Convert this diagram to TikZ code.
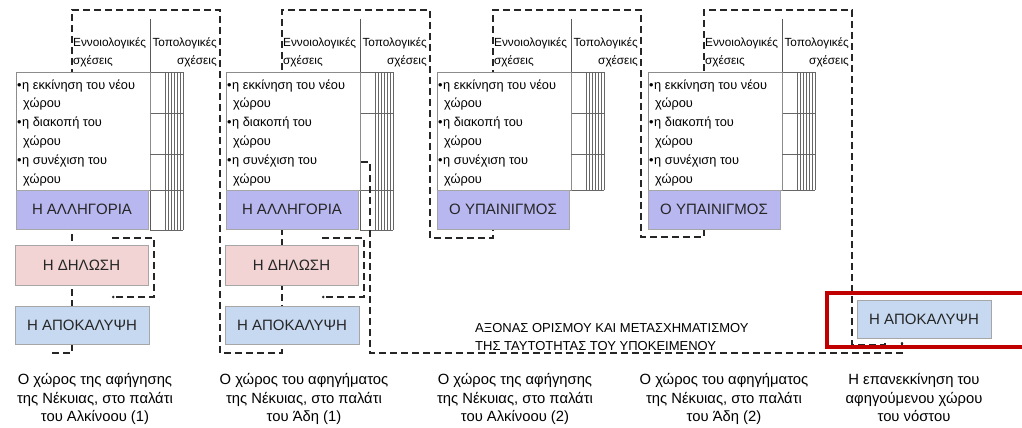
\documentclass[tikz,border=0pt]{standalone}
\usepackage{fontspec}
\setmainfont{Liberation Sans}
\usetikzlibrary{arrows.meta}

\definecolor{allcol}{HTML}{B9B7F0}
\definecolor{decol}{HTML}{F2D4D4}
\definecolor{apcol}{HTML}{C6D9F1}
\definecolor{framered}{HTML}{C00000}

\newcommand\hdrfont{\fontsize{11.8}{13}\selectfont}
\newcommand\itemfont{\fontsize{12.8}{15}\selectfont}
\newcommand\tagfont{\fontsize{15}{17}\selectfont}
\newcommand\capfont{\fontsize{14.8}{18.5}\selectfont}
\newcommand\axisfont{\fontsize{13}{18.5}\selectfont}

\begin{document}
\begin{tikzpicture}[x=1pt,y=-1pt,
  dashline/.style={draw=black!85,line width=1.1pt,dash pattern=on 7pt off 4pt},
  gridline/.style={draw=black!60,line width=0.6pt},
  sepline/.style={draw=black!65,line width=0.7pt},
  textbox/.style={draw=black!45,fill=white,line width=0.7pt,inner sep=0pt,
    minimum width=134,minimum height=118},
  tagbox/.style={draw=black!35,line width=0.7pt,inner sep=0pt,font=\tagfont,
    text=black!85,minimum width=133,minimum height=39},
  itemtext/.style={anchor=base west,inner sep=0pt,font=\itemfont},
  hdrtext/.style={inner sep=0pt,font=\hdrfont},
  captext/.style={align=center,inner sep=0pt,font=\capfont},
  enddot/.style={-{Circle[length=2.5pt]}},
]
\useasboundingbox (0,0) rectangle (1022,428);

% the serpentine dashed line that threads all the panels
\draw[dashline] (52,353) -- (72,353) -- (72,10) -- (220,10) -- (220,353)
  -- (282,353) -- (282,10) -- (430,10) -- (430,238) -- (493,238)
  -- (493,10) -- (641,10) -- (641,237) -- (704,237) -- (704,10)
  -- (852,10) -- (852,345) -- (885,345) -- (885,340);

% the four panels
\foreach \i/\o/\lab/\gb in {1/0/{Η ΑΛΛΗΓΟΡΙΑ}/230, 2/210/{Η ΑΛΛΗΓΟΡΙΑ}/230,
                            3/421/{Ο ΥΠΑΙΝΙΓΜΟΣ}/190, 4/632/{Ο ΥΠΑΙΝΙΓΜΟΣ}/190} {
  % column headers
  \node[hdrtext,anchor=base west] (hA\i) at (73+\o,46.5) {Εννοιολογικές};
  \node[hdrtext,anchor=base west] (hB\i) at (73+\o,64) {σχέσεις};
  \node[hdrtext,anchor=base east] (hC\i) at (217+\o,46.5) {Τοπολογικές};
  \node[hdrtext,anchor=base east] (hD\i) at (217+\o,64) {σχέσεις};
  % separator between the two columns
  \draw[sepline] (150+\o,19) -- (150+\o,\gb);
  % grid of the topological column
  \foreach \gx in {165,168,171,174,177,180,183}
    \draw[gridline] (\gx+\o,72) -- (\gx+\o,\gb);
  \draw[gridline] (150+\o,72.5) -- (183+\o,72.5);
  \draw[gridline] (150+\o,190) -- (183+\o,190);
  \draw[gridline] (150+\o,\gb) -- (183+\o,\gb);
  \draw[gridline] (150+\o,113) -- (183+\o,113);
  % text box with the three items
  \node[textbox] (tb\i) at (83+\o,131) {};
  \node[itemtext] (b1\i) at (17+\o,89) {•};
  \node[itemtext] (t1\i) at (22+\o,89) {η εκκίνηση του νέου};
  \node[itemtext] (u1\i) at (23+\o,107) {χώρου};
  \node[itemtext] (b2\i) at (17+\o,126) {•};
  \node[itemtext] (t2\i) at (22+\o,126) {η διακοπή του};
  \node[itemtext] (u2\i) at (23+\o,145) {χώρου};
  \node[itemtext] (b3\i) at (17+\o,164) {•};
  \node[itemtext] (t3\i) at (22+\o,164) {η συνέχιση του};
  \node[itemtext] (u3\i) at (23+\o,183) {χώρου};
  % the figure of speech below the items
  \node[tagbox,fill=allcol,minimum width=132] (al\i) at (82+\o,209.5) {\lab};
}
% third grid row, where it shows
\foreach \o in {0,421,632}
  \draw[gridline] (150+\o,154) -- (183+\o,154);

% declaration and revelation in the first two panels
\foreach \i/\o in {1/0, 2/210} {
  \node[tagbox,fill=decol,minimum height=40] (de\i) at (81.5+\o,265) {Η ΔΗΛΩΣΗ};
  \node[tagbox,fill=apcol,minimum width=134,minimum height=38] (ap\i) at (82+\o,325) {Η ΑΠΟΚΑΛΥΨΗ};
  \coordinate (ka\i) at (112+\o,238);
  \coordinate (kb\i) at (112+\o,297);
  \draw[dashline,enddot] (ka\i) -- (154+\o,238) -- (154+\o,297) -- (kb\i);
}

% axis of definition and transformation of identity
\coordinate (ax0) at (361,162);
\coordinate (ax1) at (902,342);
\draw[dashline,enddot] (ax0) -- (370,162) -- (370,353) -- (902,353) -- (ax1);
\node[anchor=base west,inner sep=0pt,font=\axisfont,align=left] (axl1) at (475,332.5)
  {ΑΞΟΝΑΣ ΟΡΙΣΜΟΥ ΚΑΙ ΜΕΤΑΣΧΗΜΑΤΙΣΜΟΥ};
\node[anchor=base west,inner sep=0pt,font=\axisfont,align=left] (axl2) at (475,350.5)
  {ΤΗΣ ΤΑΥΤΟΤΗΤΑΣ ΤΟΥ ΥΠΟΚΕΙΜΕΝΟΥ};

% final revelation, framed in red
\node[tagbox,fill=apcol,minimum width=134,minimum height=38] (ap5) at (924,319) {Η ΑΠΟΚΑΛΥΨΗ};
\draw[framered,line width=3.2pt] (1040,293) -- (827,293) -- (827,347) -- (1040,347);

% captions
\node[captext] (c1) at (95,399) {Ο χώρος της αφήγησης\\της Νέκυιας, στο παλάτι\\του Αλκίνοου (1)};
\node[captext] (c2) at (304,399) {Ο χώρος του αφηγήματος\\της Νέκυιας, στο παλάτι\\του Άδη (1)};
\node[captext] (c3) at (515,399) {Ο χώρος της αφήγησης\\της Νέκυιας, στο παλάτι\\του Αλκίνοου (2)};
\node[captext] (c4) at (724,399) {Ο χώρος του αφηγήματος\\της Νέκυιας, στο παλάτι\\του Άδη (2)};
\node[captext] (c5) at (914,397.5) {Η επανεκκίνηση του\\αφηγούμενου χώρου\\του νόστου};
\end{tikzpicture}
\end{document}
